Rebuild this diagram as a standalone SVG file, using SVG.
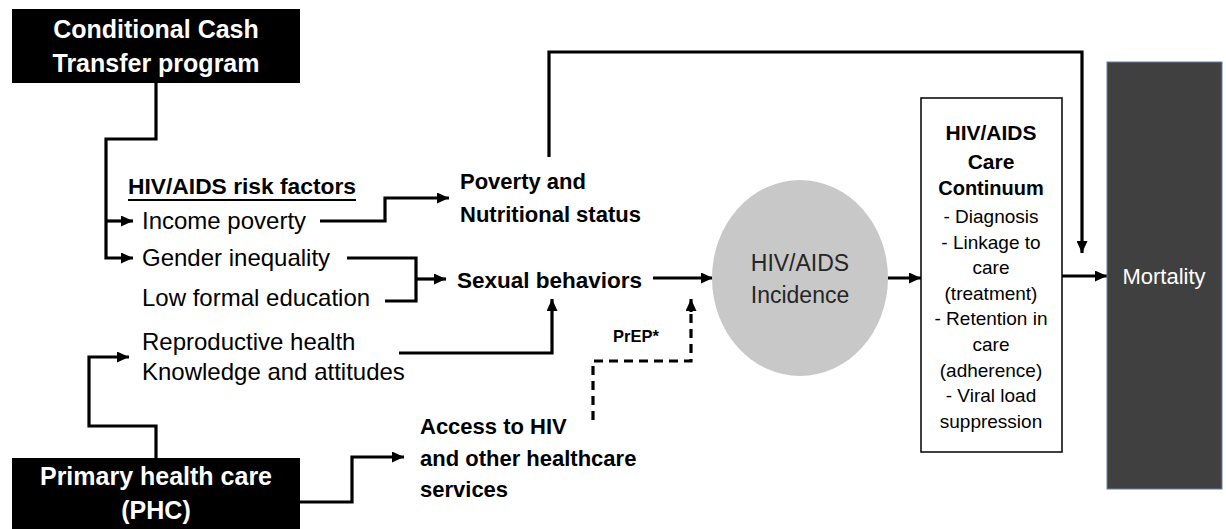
<svg xmlns="http://www.w3.org/2000/svg" width="1226" height="529" viewBox="0 0 1226 529">
<style>
text{font-family:"Liberation Sans",Arial,sans-serif;fill:#000}
.title{font-size:25px;font-weight:bold;fill:#fff;text-anchor:middle}
.b{font-size:22px;font-weight:bold}
.r{font-size:24px}
.cb{font-size:21px;font-weight:bold;text-anchor:middle}
.cr{font-size:19px;text-anchor:middle}
.line{fill:none;stroke:#000;stroke-width:3.2}
.dash{fill:none;stroke:#000;stroke-width:3.2;stroke-dasharray:9 6}
</style>
<defs>
<marker id="arr" markerUnits="userSpaceOnUse" markerWidth="13" markerHeight="11" refX="12" refY="5.5" orient="auto">
<path d="M0,0 L12,5.5 L0,11 Z" fill="#000"/>
</marker>
</defs>
<rect width="1226" height="529" fill="#fff"/>

<g id="connectors">
<path class="line" d="M156,83 V139 H106 V258 H133" marker-end="url(#arr)"/>
<path class="line" d="M106,221 H133" marker-end="url(#arr)"/>
<path class="line" d="M320,221 H385 V198 H449" marker-end="url(#arr)"/>
<path class="line" d="M347,258 H416 V301 H385"/>
<path class="line" d="M416,279 H446" marker-end="url(#arr)"/>
<path class="line" d="M399,353 H552 V299" marker-end="url(#arr)"/>
<path class="line" d="M653,278 H713" marker-end="url(#arr)"/>
<path class="dash" d="M593,420 V361 H691 V312"/>
<path class="line" d="M691,312 V299" marker-end="url(#arr)"/>
<path class="line" d="M888,278 H921" marker-end="url(#arr)"/>
<path class="line" d="M1062,276 H1107" marker-end="url(#arr)"/>
<path class="line" d="M549,157 V52 H1082 V253" marker-end="url(#arr)"/>
<path class="line" d="M156,458 V426 H89 V357 H129" marker-end="url(#arr)"/>
<path class="line" d="M300,502 H352 V457 H404" marker-end="url(#arr)"/>
</g>

<g id="cct">
<rect x="12" y="9" width="288" height="74" fill="#000"/>
<text class="title" x="156" y="38">Conditional Cash</text>
<text class="title" x="156" y="72">Transfer program</text>
</g>

<g id="phc">
<rect x="12" y="458" width="288" height="71" fill="#000"/>
<text class="title" x="156" y="485">Primary health care</text>
<text class="title" x="156" y="519">(PHC)</text>
</g>

<g id="risk-factors">
<text class="b" x="128" y="194" style="font-size:22.8px">HIV/AIDS risk factors</text>
<line x1="128" y1="200" x2="356" y2="200" stroke="#000" stroke-width="2"/>
<text class="r" x="142" y="229">Income poverty</text>
<text class="r" x="142" y="266">Gender inequality</text>
<text class="r" x="142" y="306">Low formal education</text>
</g>

<g id="reproductive">
<text class="r" x="142" y="350">Reproductive health</text>
<text class="r" x="142" y="380">Knowledge and attitudes</text>
</g>

<g id="poverty">
<text class="b" x="460" y="189">Poverty and</text>
<text class="b" x="460" y="222">Nutritional status</text>
</g>

<g id="sexual">
<text class="b" x="457" y="288" style="font-size:22.5px">Sexual behaviors</text>
</g>

<g id="prep">
<text x="613" y="342" style="font-size:16.5px;font-weight:bold">PrEP*</text>
</g>

<g id="access">
<text class="b" x="420" y="434">Access to HIV</text>
<text class="b" x="420" y="466">and other healthcare</text>
<text class="b" x="420" y="497">services</text>
</g>

<g id="incidence">
<ellipse cx="800" cy="278" rx="88" ry="98" fill="#c8c8c8"/>
<text x="800" y="271" style="font-size:23px;text-anchor:middle;fill:#262626">HIV/AIDS</text>
<text x="800" y="303" style="font-size:23px;text-anchor:middle;fill:#262626">Incidence</text>
</g>

<g id="care">
<rect x="921" y="98" width="141" height="354" fill="#fff" stroke="#000" stroke-width="1.5"/>
<text class="cb" x="991" y="140">HIV/AIDS</text>
<text class="cb" x="991" y="169">Care</text>
<text class="cb" x="991" y="195" style="font-size:20px">Continuum</text>
<text class="cr" x="991" y="223">- Diagnosis</text>
<text class="cr" x="991" y="249">- Linkage to</text>
<text class="cr" x="991" y="274">care</text>
<text class="cr" x="991" y="300">(treatment)</text>
<text class="cr" x="991" y="325">- Retention in</text>
<text class="cr" x="991" y="351">care</text>
<text class="cr" x="991" y="377">(adherence)</text>
<text class="cr" x="991" y="402">- Viral load</text>
<text class="cr" x="991" y="428">suppression</text>
</g>

<g id="mortality">
<rect x="1107" y="62" width="115" height="427" fill="#404040" stroke="#6a7fa8" stroke-width="1"/>
<text x="1164" y="284" style="font-size:22px;text-anchor:middle;fill:#fff">Mortality</text>
</g>
</svg>
